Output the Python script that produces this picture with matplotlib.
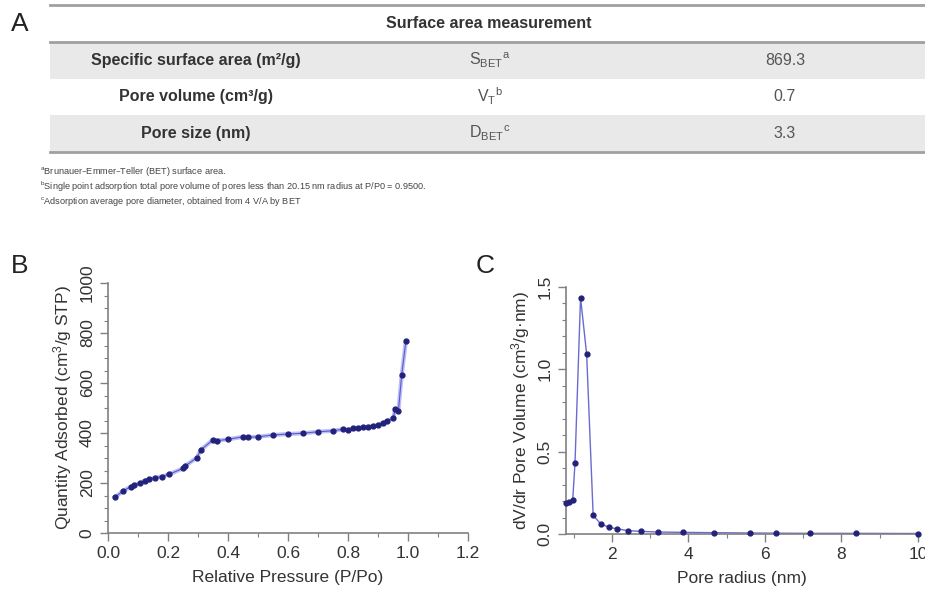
import numpy as np
import matplotlib
matplotlib.use("Agg")
import matplotlib.pyplot as plt
from matplotlib.ticker import MultipleLocator
from matplotlib.patches import Rectangle

plt.rcParams['font.family'] = ['Liberation Sans', 'DejaVu Sans']
plt.rcParams['mathtext.default'] = 'regular'

# --- panel A table data ---
table_title = "Surface area measurement"
row_names = ["Specific surface area (m\u00b2/g)", "Pore volume (cm\u00b3/g)", "Pore size (nm)"]
row_symbols = [r"$S_{BET}{}^{a}$", r"$V_{T}{}^{b}$", r"$D_{BET}{}^{c}$"]
row_values = ["869.3", "0.7", "3.3"]
footnotes = [
    "$^{a}$Brunauer\u2013Emmer\u2013Teller (BET) surface area.",
    "$^{b}$Single point adsorption total pore volume of pores less than 20.15 nm radius at P/P0 = 0.9500.",
    "$^{c}$Adsorption average pore diameter, obtained from 4 V/A by BET",
]

# --- panel B: N2 isotherm ---
rel_pressure = [0.023, 0.049, 0.075, 0.087, 0.105, 0.122, 0.138, 0.157, 0.179, 0.204,
                0.251, 0.257, 0.296, 0.309, 0.349, 0.362, 0.401, 0.451, 0.468, 0.501,
                0.551, 0.601, 0.651, 0.701, 0.751, 0.784, 0.801, 0.818, 0.834, 0.851,
                0.868, 0.884, 0.901, 0.918, 0.929, 0.951, 0.957, 0.968, 0.979, 0.993]
quantity_ads = [143, 167, 185, 191, 199, 210, 215, 221, 226, 235,
                259, 268, 301, 332, 372, 369, 375, 385, 383, 385,
                392, 396, 399, 405, 409, 415, 412, 419, 421, 423,
                425, 428, 432, 441, 448, 459, 495, 489, 632, 768]

# --- panel C: pore size distribution ---
pore_radius = [0.80, 0.887, 0.975, 1.035, 1.18, 1.34, 1.51, 1.71, 1.93, 2.12,
               2.43, 2.75, 3.21, 3.85, 4.67, 5.6, 6.28, 7.17, 8.37, 10.0]
dvdr = [0.186, 0.192, 0.206, 0.428, 1.434, 1.09, 0.113, 0.061, 0.040, 0.032,
        0.020, 0.016, 0.012, 0.010, 0.008, 0.006, 0.005, 0.004, 0.004, 0.003]

W, H = 925, 596
fig = plt.figure(figsize=(W / 100, H / 100), dpi=100)

# table drawn on a full-figure pixel canvas
tab = fig.add_axes([0, 0, 1, 1])
tab.set_xlim(0, W)
tab.set_ylim(H, 0)
tab.axis('off')

band = '#e9e9e9'
rule = '#a0a0a0'
row_top = [42, 78, 115]
row_h = 37
for i, top in enumerate(row_top):
    if i % 2 == 0:
        tab.add_patch(Rectangle((50, top), W - 50, row_h, color=band, lw=0))
for yy in [5, 42, 152]:
    tab.plot([50, W], [yy, yy], color=rule, lw=2.0)

tab.text(20, 24, "A", fontsize=19, ha='center', va='center', color='#222222')
tab.text(489, 24, table_title, fontsize=11.5, fontweight='bold', ha='center', va='center', color='#333333')
for i, top in enumerate(row_top):
    yc = top + row_h / 2
    tab.text(196, yc, row_names[i], fontsize=11.5, fontweight='bold', ha='center', va='center', color='#333333')
    tab.text(490, yc, row_symbols[i], fontsize=11.5, ha='center', va='center', color='#555555')
    tab.text(785, yc, row_values[i], fontsize=11.5, ha='center', va='center', color='#555555')
for i, note in enumerate(footnotes):
    tab.text(40, 171 + i * 15.5, note, fontsize=6.6, ha='left', va='center', color='#444444')

tab.text(20, 266, "B", fontsize=19, ha='center', va='center', color='#222222')
tab.text(485, 266, "C", fontsize=19, ha='center', va='center', color='#222222')

spine_col = '#808080'
mark_col = '#22227a'


def style_axes(ax):
    for s in ['top', 'right']:
        ax.spines[s].set_visible(False)
    for s in ['left', 'bottom']:
        ax.spines[s].set_color(spine_col)
        ax.spines[s].set_linewidth(1.2)
    ax.tick_params(which='major', length=6, width=1, color=spine_col, labelsize=12.5, labelcolor='#333333')
    ax.tick_params(which='minor', length=3, width=0.8, color=spine_col)
    ax.tick_params(axis='y', labelrotation=90)
    for lab in ax.get_yticklabels():
        lab.set_va('center')


# panel B
axb = fig.add_axes([108 / W, 1 - 533 / H, 360 / W, 250 / H])
axb.plot(rel_pressure, quantity_ads, color='#8c8ce8', lw=3, alpha=0.55, zorder=2)
axb.plot(rel_pressure, quantity_ads, color='#5a5ad0', lw=0.8, zorder=3)
axb.plot(rel_pressure, quantity_ads, 'o', color=mark_col, ms=3.5, zorder=4)
axb.set_xlim(0, 1.2)
axb.set_ylim(0, 1000)
axb.xaxis.set_major_locator(MultipleLocator(0.2))
axb.xaxis.set_minor_locator(MultipleLocator(0.1))
axb.yaxis.set_major_locator(MultipleLocator(200))
axb.yaxis.set_minor_locator(MultipleLocator(50))
axb.xaxis.set_major_formatter(plt.FuncFormatter(lambda v, p: f"{v:.1f}"))
style_axes(axb)
axb.set_xlabel("Relative Pressure (P/Po)", fontsize=12.5, color='#333333', labelpad=6)
axb.set_ylabel("Quantity Adsorbed (cm$^{3}$/g STP)", fontsize=12.5, color='#333333', labelpad=4)

# panel C
axc = fig.add_axes([566 / W, 1 - 534 / H, 352 / W, 247.3 / H])
axc.plot(pore_radius, dvdr, color='#6a6ad0', lw=1.0, zorder=2)
axc.plot(pore_radius, dvdr, 'o', color=mark_col, ms=3.5, zorder=3, clip_on=False)
axc.set_xlim(0.8, 10)
axc.set_ylim(0, 1.5)
axc.xaxis.set_major_locator(MultipleLocator(2))
axc.xaxis.set_minor_locator(MultipleLocator(1))
axc.yaxis.set_major_locator(MultipleLocator(0.5))
axc.yaxis.set_minor_locator(MultipleLocator(0.1))
axc.yaxis.set_major_formatter(plt.FuncFormatter(lambda v, p: f"{v:.1f}"))
style_axes(axc)
axc.set_xlabel("Pore radius (nm)", fontsize=12.5, color='#333333', labelpad=6)
axc.set_ylabel("dV/dr Pore Volume (cm$^{3}$/g\u00b7nm)", fontsize=12.5, color='#333333', labelpad=4)

fig.savefig("out.png", dpi=100)
